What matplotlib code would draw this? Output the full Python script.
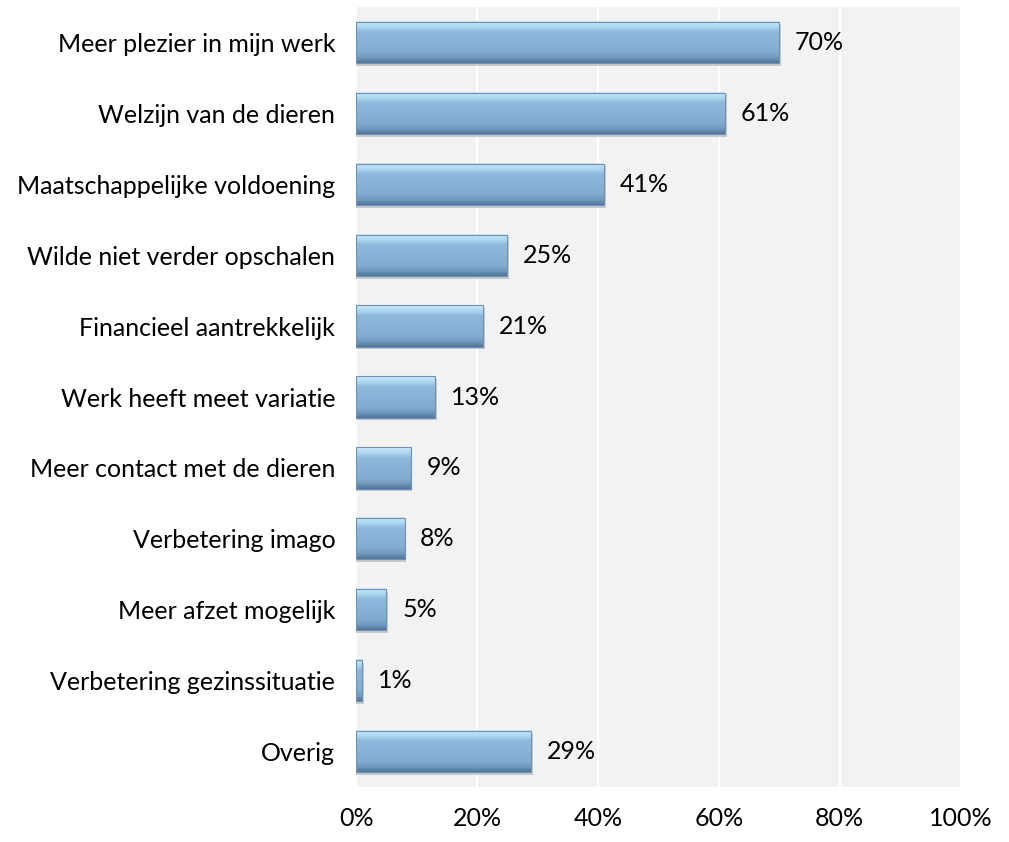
import numpy as np
import matplotlib.pyplot as plt
from matplotlib.colors import LinearSegmentedColormap

categories = [
    "Meer plezier in mijn werk",
    "Welzijn van de dieren",
    "Maatschappelijke voldoening",
    "Wilde niet verder opschalen",
    "Financieel aantrekkelijk",
    "Werk heeft meet variatie",
    "Meer contact met de dieren",
    "Verbetering imago",
    "Meer afzet mogelijk",
    "Verbetering gezinssituatie",
    "Overig",
]
values = [70, 61, 41, 25, 21, 13, 9, 8, 5, 1, 29]
xticks = [0, 20, 40, 60, 80, 100]

plt.rcParams['font.family'] = ['Lato', 'DejaVu Sans']

fig = plt.figure(figsize=(10.09, 8.42), dpi=100)
ax = fig.add_axes([0.353, 0.065, 0.599, 0.927])
ax.set_facecolor("#f2f2f2")

n = len(categories)
ys = np.arange(n)[::-1]
h = 0.58

# vertical gradient for the bevelled look: light rim on top, dark rim at bottom
bar_cmap = LinearSegmentedColormap.from_list(
    "bar", [(0.0, "#c9ebfa"), (0.15, "#a9d3ef"), (0.25, "#8fb8dc"),
            (0.75, "#83abd0"), (0.88, "#7198bd"), (1.0, "#52749a")])
grad = np.linspace(0, 1, 64).reshape(-1, 1)

for y, v in zip(ys, values):
    # soft shadow
    ax.add_patch(plt.Rectangle((0, y - h / 2 - 0.04), v + 0.3, h, color="#c8c8c8",
                               lw=0, zorder=2))
    ax.imshow(grad, cmap=bar_cmap, aspect="auto",
              extent=(0, v, y - h / 2, y + h / 2), origin="upper", zorder=3)
    ax.add_patch(plt.Rectangle((0, y - h / 2), v, h, fill=False,
                               edgecolor="#6f92b4", lw=0.8, zorder=4))
    ax.text(v + 2.6, y, f"{v}%", va="center", ha="left", fontsize=18, zorder=5)

ax.set_xlim(0, 100)
ax.set_ylim(-0.5, n - 0.5)
ax.set_xticks(xticks)
ax.set_xticklabels([f"{t}%" for t in xticks], fontsize=18)
ax.set_yticks(ys)
ax.set_yticklabels(categories, fontsize=18)
ax.tick_params(length=0)
ax.tick_params(axis="x", pad=14)
ax.tick_params(axis="y", pad=15)
ax.grid(axis="x", color="white", lw=1.5, zorder=1)
ax.set_axisbelow(True)
for s in ax.spines.values():
    s.set_visible(False)

fig.savefig("out.png", dpi=100)
